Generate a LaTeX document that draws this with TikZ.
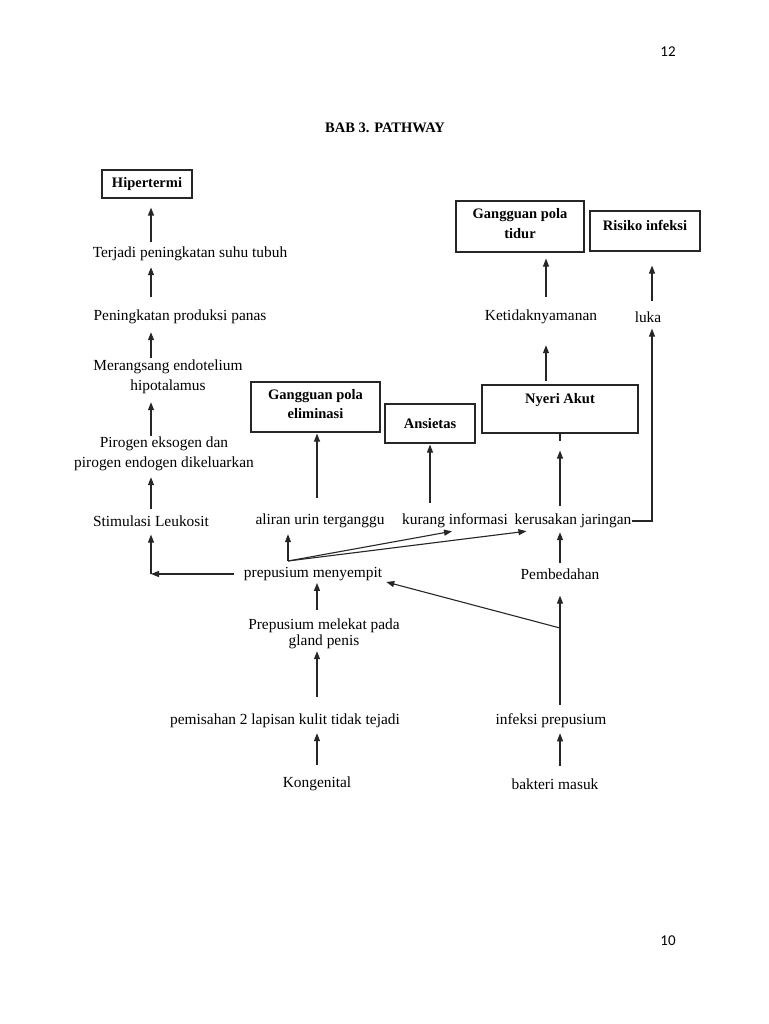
\documentclass[tikz,border=0pt]{standalone}
\usepackage{fontspec}
\setmainfont{Liberation Serif}
\newfontfamily\pgnum{Carlito}
\usetikzlibrary{arrows.meta}
\begin{document}
\begin{tikzpicture}[x=1pt,y=-1pt,
  txt/.style={inner sep=0pt,font=\fontsize{15.4}{20}\selectfont,align=center},
  txtb/.style={inner sep=0pt,font=\fontsize{15.4}{16}\selectfont,align=center},
  box/.style={draw=black!85,line width=1.1pt,inner sep=0pt,align=center,font=\bfseries\fontsize{14.5}{19.5}\selectfont},
  arr/.style={draw=black!85,line width=1.1pt,-{Triangle[length=8pt,width=6pt]}},
  ln/.style={draw=black!85,line width=1.1pt}]
\useasboundingbox (0,0) rectangle (768,1024);
% page numbers and title
\node[font=\pgnum\fontsize{15}{18}\selectfont,inner sep=0pt] (p12) at (668,52) {12};
\node[font=\pgnum\fontsize{15}{18}\selectfont,inner sep=0pt] (p10) at (668,941) {10};
\node[font=\bfseries\fontsize{14.5}{17}\selectfont,inner sep=0pt] (title) at (385,128) {BAB 3. PATHWAY};
% column coordinates
\coordinate (colA) at (151,0);
\coordinate (colB) at (317,0);
\coordinate (colC) at (560,0);
\coordinate (colD) at (546,0);
\coordinate (colE) at (652,0);
% boxes
\node[box,minimum width=90pt,minimum height=28pt] (hip) at (147,184) {Hipertermi};
\node[box,minimum width=128pt,minimum height=51pt] (gpt) at (520,226.5) {Gangguan pola\\tidur\\[-13.5pt]\mbox{}};
\node[box,minimum width=110pt,minimum height=40pt,text height=10pt,text depth=10pt] (ri) at (645,231) {Risiko infeksi};
\node[box,minimum width=129pt,minimum height=50pt] (gpe) at (315.5,407) {Gangguan pola\\eliminasi\\[-13.5pt]\mbox{}};
\node[box,minimum width=90pt,minimum height=39pt] (ans) at (430,423.5) {Ansietas};
\node[box,minimum width=156pt,minimum height=48pt] (nya) at (560,409) {Nyeri Akut\\[2pt]\mbox{}};
% texts
\node[txt] (tp) at (190,254) {Terjadi peningkatan suhu tubuh};
\node[txt] (pp) at (180,317) {Peningkatan produksi panas};
\node[txt] (me) at (168,377) {Merangsang endotelium\\hipotalamus};
\node[txt] (pe) at (164,454) {Pirogen eksogen dan\\pirogen endogen dikeluarkan};
\node[txt] (sl) at (151,521) {Stimulasi Leukosit};
\node[txt] (au) at (320,521) {aliran urin terganggu};
\node[txt] (ki) at (455,521) {kurang informasi};
\node[txt] (kj) at (573,521) {kerusakan jaringan};
\node[txt] (pm) at (313,574) {prepusium menyempit};
\node[txt] (pb) at (560,574) {Pembedahan};
\node[txtb] (pmk) at (324,634) {Prepusium melekat pada\\gland penis};
\node[txt] (pem) at (285,721) {pemisahan 2 lapisan kulit tidak tejadi};
\node[txt] (kon) at (317,784) {Kongenital};
\node[txt] (inf) at (551,721) {infeksi prepusium};
\node[txt] (bak) at (555,784) {bakteri masuk};
\node[txt] (ket) at (541,317) {Ketidaknyamanan};
\node[txt] (luka) at (648,317) {luka};
% left column
\draw[arr,shorten <=5pt,shorten >=9pt] (tp.north -| colA) -- (hip.south -| colA);
\draw[arr,shorten <=13pt,shorten >=6pt] (pp.north -| colA) -- (tp.south -| colA);
\draw[arr,shorten <=2pt,shorten >=8pt] (me.north -| colA) -- (pp.south -| colA);
\draw[arr,shorten <=1pt,shorten >=8pt] (pe.north -| colA) -- (me.south -| colA);
\draw[arr,shorten <=6pt,shorten >=6pt] (sl.north -| colA) -- (pe.south -| colA);
\draw[arr,shorten <=10pt] (pm.west) -- (pm.west -| colA);
\draw[arr,shorten >=8pt] (pm.west -| colA) -- (sl.south -| colA);
% branch from prepusium menyempit
\coordinate (bp) at (288,561);
\draw[arr,shorten >=6pt] (bp) -- (bp |- au.south);
\draw[arr] (bp) -- ([xshift=-3pt,yshift=-3pt]ki.south);
\draw[arr] (bp) -- ([xshift=12pt,yshift=-3pt]kj.south west);
% upper middle
\draw[arr,shorten <=16pt,shorten >=1pt] (au.north -| colB) -- (gpe.south -| colB);
\draw[arr,shorten <=11pt,shorten >=1pt] (ki.north -| ans.south) -- (ans.south);
\draw[ln] (nya.south) -- ++(0,7);
\draw[arr,shorten <=8pt,shorten >=17pt] (kj.north -| colC) -- (nya.south -| colC);
\draw[arr,shorten <=3pt,shorten >=21pt] (nya.north -| colD) -- (ket.south -| colD);
\draw[arr,shorten <=13pt,shorten >=6pt] (ket.north -| colD) -- (gpt.south -| colD);
\draw[arr,shorten <=10pt,shorten >=14pt] (luka.north -| colE) -- (ri.south -| colE);
\draw[arr,shorten >=6pt] (kj.east) -| (luka.south -| colE);
% lower part
\draw[arr,shorten <=9pt,shorten >=2pt] (pmk.north -| colB) -- (pm.south -| colB);
\draw[arr,shorten <=17pt,shorten >=2pt] (pem.north -| colB) -- (pmk.south -| colB);
\draw[arr,shorten <=12pt,shorten >=5pt] (kon.north -| colB) -- (pem.south -| colB);
\draw[arr,shorten <=12pt,shorten >=5pt] (bak.north -| colC) -- (inf.south -| colC);
\draw[arr,shorten <=9pt,shorten >=16pt] (inf.north -| colC) -- (pb.south -| colC);
\coordinate (jn) at (560,628);
\draw[arr] (jn) -- ([xshift=4pt,yshift=-8pt]pm.east);
\draw[arr,shorten <=5pt,shorten >=4pt] (pb.north -| colC) -- (kj.south -| colC);
\end{tikzpicture}
\end{document}
